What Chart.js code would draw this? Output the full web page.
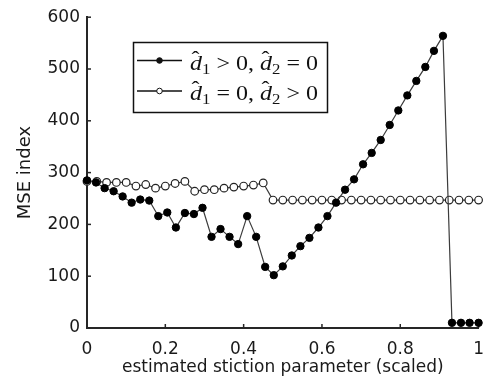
<!DOCTYPE html>
<html>
<head>
<meta charset="utf-8">
<script src="https://cdn.jsdelivr.net/npm/chart.js@4"></script>
<style>
  html, body { margin: 0; padding: 0; background: #fff; }
</style>
</head>
<body>
<canvas id="mseChart" width="495" height="387"></canvas>
<script>
// x grid of the first estimate (45 samples)
var xFilled = [0, 0.023, 0.045, 0.068, 0.091, 0.114, 0.136, 0.159, 0.182, 0.205,
  0.227, 0.25, 0.273, 0.295, 0.318, 0.341, 0.364, 0.386, 0.409, 0.432,
  0.455, 0.477, 0.5, 0.523, 0.545, 0.568, 0.591, 0.614, 0.636, 0.659,
  0.682, 0.705, 0.727, 0.75, 0.773, 0.795, 0.818, 0.841, 0.864, 0.886,
  0.909, 0.932, 0.955, 0.977, 1];
var yFilled = [285, 281, 270, 264, 254, 242, 248, 246, 216, 223,
  194, 222, 220, 232, 176, 191, 176, 162, 216, 176,
  118, 102, 119, 140, 158, 174, 194, 216, 242, 267,
  287, 316, 338, 363, 392, 420, 449, 477, 504, 535,
  564, 10, 10, 10, 10];

// x grid of the second estimate (41 samples)
var xOpen = [0, 0.025, 0.05, 0.075, 0.1, 0.125, 0.15, 0.175, 0.2, 0.225,
  0.25, 0.275, 0.3, 0.325, 0.35, 0.375, 0.4, 0.425, 0.45, 0.475,
  0.5, 0.525, 0.55, 0.575, 0.6, 0.625, 0.65, 0.675, 0.7, 0.725,
  0.75, 0.775, 0.8, 0.825, 0.85, 0.875, 0.9, 0.925, 0.95, 0.975, 1];
var yOpen = [283, 283, 281, 281, 281, 274, 277, 270, 274, 279,
  283, 264, 267, 267, 270, 272, 274, 276, 280, 247,
  247, 247, 247, 247, 247, 247, 247, 247, 247, 247,
  247, 247, 247, 247, 247, 247, 247, 247, 247, 247, 247];

var xTicks = [0, 0.2, 0.4, 0.6, 0.8, 1];
var yTicks = [0, 100, 200, 300, 400, 500, 600];
var xTitle = 'estimated stiction parameter (scaled)';
var yTitle = 'MSE index';

function toPoints(xs, ys) {
  return xs.map(function (x, i) { return { x: x, y: ys[i] }; });
}

var axisColor = '#262626';
var lineColor = '#3c3c3c';

// small tick marks pointing into the plot, like the original figure
var inwardTicks = {
  id: 'inwardTicks',
  beforeDatasetsDraw: function (chart) {
    var ctx = chart.ctx, area = chart.chartArea, sx = chart.scales.x, sy = chart.scales.y;
    ctx.save();
    ctx.strokeStyle = axisColor;
    ctx.lineWidth = 1.5;
    xTicks.forEach(function (v) {
      var px = sx.getPixelForValue(v);
      ctx.beginPath(); ctx.moveTo(px, area.bottom); ctx.lineTo(px, area.bottom - 4); ctx.stroke();
    });
    yTicks.forEach(function (v) {
      var py = sy.getPixelForValue(v);
      ctx.beginPath(); ctx.moveTo(area.left, py); ctx.lineTo(area.left + 4, py); ctx.stroke();
    });
    ctx.restore();
  }
};

// legend with the d-hat labels
function drawLabel(ctx, x, base, parts) {
  var size = 20;
  var fam = '"Liberation Serif", "DejaVu Serif", serif';
  ctx.save();
  var w = 0;
  parts.forEach(function (p) {
    ctx.font = (p.it ? 'italic ' : '') + (p.sub ? 14 : size) + 'px ' + fam;
    w += ctx.measureText(p.t).width;
  });
  var k = 128 / w;
  ctx.translate(x, base);
  ctx.scale(k, 1);
  var cx = 0;
  parts.forEach(function (p) {
    ctx.font = (p.it ? 'italic ' : '') + (p.sub ? 14 : size) + 'px ' + fam;
    var tw = ctx.measureText(p.t).width;
    ctx.fillText(p.t, cx, p.sub ? 4 : 0);
    if (p.hat) {
      ctx.font = size + 'px ' + fam;
      ctx.textAlign = 'center';
      ctx.fillText('\u02C6', cx + tw * 0.45, -4);
      ctx.textAlign = 'left';
    }
    cx += tw;
  });
  ctx.restore();
}

var legendItems = [
  { filled: true, parts: [{ t: 'd', it: true, hat: true }, { t: '1', sub: true }, { t: ' > 0, ' },
    { t: 'd', it: true, hat: true }, { t: '2', sub: true }, { t: ' = 0' }] },
  { filled: false, parts: [{ t: 'd', it: true, hat: true }, { t: '1', sub: true }, { t: ' = 0, ' },
    { t: 'd', it: true, hat: true }, { t: '2', sub: true }, { t: ' > 0' }] }
];

var boxLegend = {
  id: 'boxLegend',
  afterDraw: function (chart) {
    var ctx = chart.ctx;
    ctx.save();
    ctx.fillStyle = '#fff';
    ctx.fillRect(133.5, 42.5, 194, 70);
    ctx.strokeStyle = '#111';
    ctx.lineWidth = 1.5;
    ctx.strokeRect(133.5, 42.5, 194, 70);
    legendItems.forEach(function (item, i) {
      var y = 60.5 + i * 30.5;
      ctx.strokeStyle = '#111';
      ctx.lineWidth = 1.3;
      ctx.beginPath(); ctx.moveTo(137, y); ctx.lineTo(182, y); ctx.stroke();
      ctx.beginPath(); ctx.arc(159.5, y, 2.8, 0, Math.PI * 2);
      ctx.fillStyle = item.filled ? '#111' : '#fff';
      ctx.fill(); ctx.lineWidth = 1; ctx.stroke();
      ctx.fillStyle = '#111';
      ctx.textBaseline = 'alphabetic';
      drawLabel(ctx, 190, 69.5 + i * 30.5, item.parts);
    });
    ctx.restore();
  }
};

var ctxM = document.getElementById('mseChart').getContext('2d');

var mseChart = new Chart(ctxM, {
  type: 'scatter',
  data: {
    datasets: [{
      label: 'd1 > 0, d2 = 0',
      data: toPoints(xFilled, yFilled),
      showLine: true,
      borderColor: lineColor,
      borderWidth: 1.2,
      backgroundColor: '#000',
      pointBackgroundColor: '#000',
      pointBorderColor: '#000',
      pointBorderWidth: 1,
      pointRadius: 3.7,
      clip: false
    },
    {
      label: 'd1 = 0, d2 > 0',
      data: toPoints(xOpen, yOpen),
      showLine: true,
      borderColor: lineColor,
      borderWidth: 1.2,
      backgroundColor: '#fff',
      pointBackgroundColor: '#fff',
      pointBorderColor: '#222',
      pointBorderWidth: 1.2,
      pointRadius: 3.8,
      clip: false
    }]
  },
  options: {
    responsive: false,
    animation: false,
    layout: { padding: { top: 13, right: 13, left: 0, bottom: 0 } },
    plugins: {
      legend: { display: false },
      tooltip: { enabled: false }
    },
    scales: {
      x: {
        type: 'linear',
        min: 0,
        max: 1,
        afterBuildTicks: function (s) { s.ticks = xTicks.map(function (v) { return { value: v }; }); },
        afterFit: function (s) { s.height = 59; },
        grid: { display: false, drawTicks: false },
        border: { display: true, color: axisColor, width: 2 },
        ticks: {
          padding: 11,
          color: '#1a1a1a',
          font: { family: 'DejaVu Sans', size: 17 },
          callback: function (v) { return String(+v.toFixed(1)); }
        },
        title: {
          display: true,
          text: xTitle,
          color: '#1a1a1a',
          font: { family: 'DejaVu Sans', size: 17, lineHeight: 1.2 },
          padding: { top: 0, bottom: 9 }
        }
      },
      y: {
        min: 0,
        max: 600,
        afterBuildTicks: function (s) { s.ticks = yTicks.map(function (v) { return { value: v }; }); },
        afterFit: function (s) { s.width = 87; },
        grid: { display: false, drawTicks: false },
        border: { display: true, color: axisColor, width: 2 },
        ticks: {
          padding: 7,
          color: '#1a1a1a',
          font: { family: 'DejaVu Sans', size: 17 }
        },
        title: {
          display: true,
          text: yTitle,
          color: '#1a1a1a',
          font: { family: 'DejaVu Sans', size: 18, lineHeight: 1.2 },
          padding: { top: 15, bottom: 0 }
        }
      }
    }
  },
  plugins: [inwardTicks, boxLegend]
});
</script>
</body>
</html>
